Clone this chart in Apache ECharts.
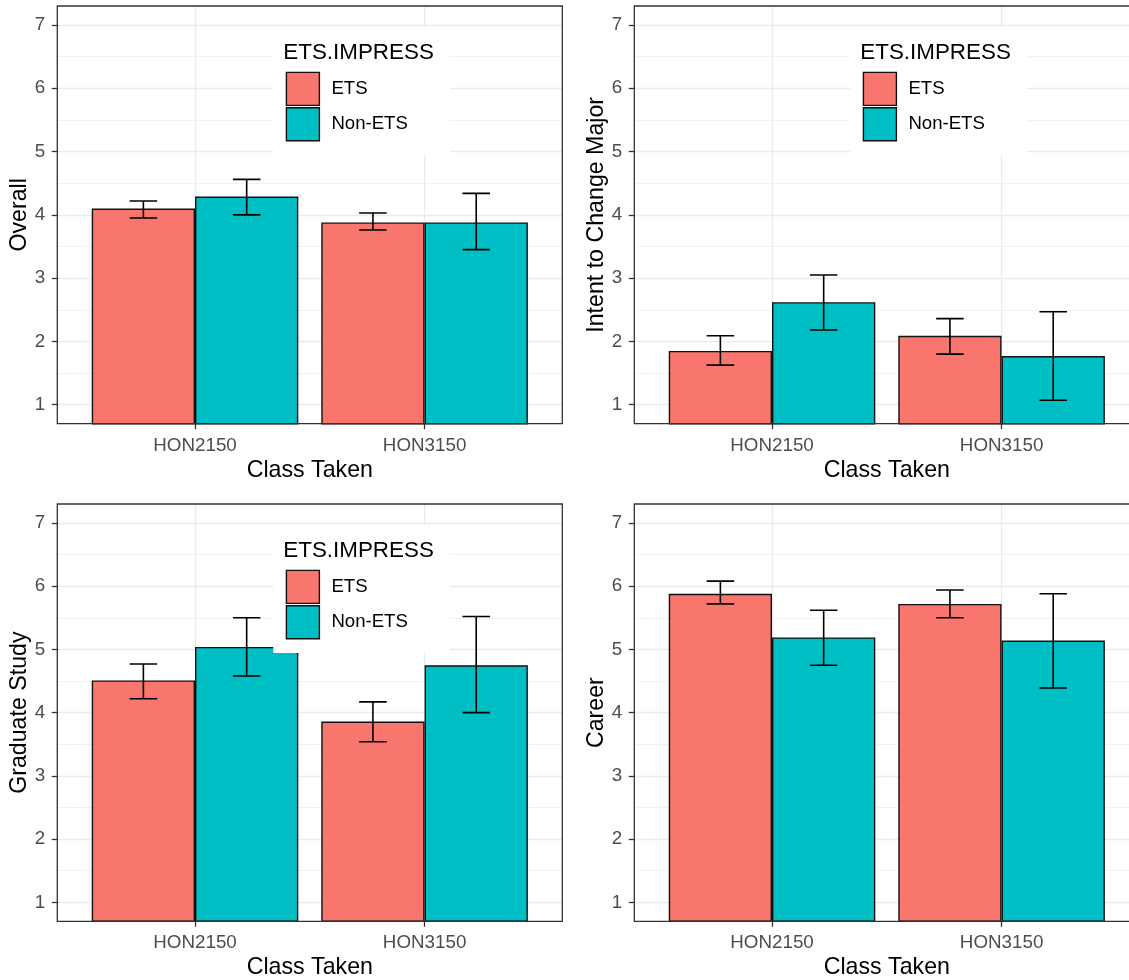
<!DOCTYPE html>
<html>
<head>
<meta charset="utf-8">
<script src="https://cdn.jsdelivr.net/npm/echarts@6/dist/echarts.min.js"></script>
<style>
html, body { margin: 0; padding: 0; background: #fff; }
#chart { width: 1129px; height: 980px; }
</style>
</head>
<body>
<div id="chart"></div>
<script>
// ---- data ----
const categories = ['HON2150', 'HON3150'];
const groups = ['ETS', 'Non-ETS'];
const yTicks = [1, 2, 3, 4, 5, 6, 7];
const yMinorBreaks = [1.5, 2.5, 3.5, 4.5, 5.5, 6.5];
const panelTitles = ['Overall', 'Intent to Change Major', 'Graduate Study', 'Career'];
const xTitle = 'Class Taken';
const legendTitle = 'ETS.IMPRESS';

const overallETS = [4.10, 3.88];
const overallETSLo = [3.95, 3.76];
const overallETSHi = [4.22, 4.03];
const overallNon = [4.29, 3.88];
const overallNonLo = [4.00, 3.45];
const overallNonHi = [4.56, 4.34];

const intentETS = [1.85, 2.09];
const intentETSLo = [1.625, 1.80];
const intentETSHi = [2.09, 2.36];
const intentNon = [2.62, 1.77];
const intentNonLo = [2.18, 1.07];
const intentNonHi = [3.05, 2.47];

const gradETS = [4.51, 3.86];
const gradETSLo = [4.22, 3.54];
const gradETSHi = [4.77, 4.17];
const gradNon = [5.04, 4.75];
const gradNonLo = [4.58, 4.00];
const gradNonHi = [5.50, 5.52];

const careerETS = [5.88, 5.72];
const careerETSLo = [5.72, 5.50];
const careerETSHi = [6.08, 5.94];
const careerNon = [5.19, 5.14];
const careerNonLo = [4.75, 4.39];
const careerNonHi = [5.62, 5.88];

const panelData = [
  { ets: overallETS, etsLo: overallETSLo, etsHi: overallETSHi, non: overallNon, nonLo: overallNonLo, nonHi: overallNonHi },
  { ets: intentETS, etsLo: intentETSLo, etsHi: intentETSHi, non: intentNon, nonLo: intentNonLo, nonHi: intentNonHi },
  { ets: gradETS, etsLo: gradETSLo, etsHi: gradETSHi, non: gradNon, nonLo: gradNonLo, nonHi: gradNonHi },
  { ets: careerETS, etsLo: careerETSLo, etsHi: careerETSHi, non: careerNon, nonLo: careerNonLo, nonHi: careerNonHi }
];
const showLegend = [true, true, true, false];

// ---- layout / style ----
const FONT = '"Liberation Sans", Arial, sans-serif';
const colors = ['#F8766D', '#00BFC4'];
const PW = 505;
const layouts = [
  { left: 57.3, top: 6, height: 417.7 },
  { left: 634.3, top: 6, height: 417.7 },
  { left: 57.3, top: 504, height: 417.3 },
  { left: 634.3, top: 504, height: 417.3 }
];
const dodge = [-0.225, 0.225];
const capFrac = 0.12;

const grid = [], xAxis = [], yAxis = [], series = [], legend = [], title = [], graphic = [];

layouts.forEach((L, p) => {
  grid.push({ left: L.left, top: L.top, width: PW, height: L.height, show: false,
              containLabel: false, outerBoundsMode: 'none' });
  xAxis.push({
    type: 'value', gridIndex: p, min: 0.4, max: 2.6,
    name: xTitle, nameLocation: 'middle', nameGap: 35,
    nameTextStyle: { fontFamily: FONT, fontSize: 23.2, color: '#000' },
    axisLine: { show: false },
    axisTick: { show: true, length: 5.5, customValues: categories.map((c, i) => i + 1),
                lineStyle: { color: '#333', width: 1.3 } },
    axisLabel: { show: true, customValues: categories.map((c, i) => i + 1), margin: 12.5,
                 fontFamily: FONT, fontSize: 18.8, color: '#4D4D4D',
                 formatter: v => categories[Math.round(v) - 1] || '' },
    splitLine: { show: true, lineStyle: { color: '#EBEBEB', width: 1.3 } }
  });
  yAxis.push({
    type: 'value', gridIndex: p, min: 0.7, max: 7.3,
    name: panelTitles[p], nameLocation: 'middle', nameGap: 25,
    nameTextStyle: { fontFamily: FONT, fontSize: 23.2, color: '#000' },
    axisLine: { show: false },
    axisTick: { show: true, length: 5.5, customValues: yTicks, lineStyle: { color: '#333', width: 1.3 } },
    axisLabel: { show: true, customValues: yTicks, margin: 12, fontFamily: FONT, fontSize: 18.8, color: '#4D4D4D' },
    splitLine: { show: true, lineStyle: { color: '#EBEBEB', width: 1.3 } }
  });
  yAxis.push({
    type: 'value', gridIndex: p, min: 0.7, max: 7.3, position: 'right',
    axisLine: { show: false },
    axisTick: { show: false, customValues: yMinorBreaks },
    axisLabel: { show: false, customValues: yMinorBreaks },
    splitLine: { show: true, lineStyle: { color: '#EBEBEB', width: 0.7 } }
  });

  const D = panelData[p];
  const vals = [D.ets, D.non], los = [D.etsLo, D.nonLo], his = [D.etsHi, D.nonHi];
  groups.forEach((g, k) => {
    series.push({
      type: 'bar', name: g, xAxisIndex: p, yAxisIndex: 2 * p,
      data: categories.map((c, i) => [i + 1, vals[k][i]]),
      barGap: '0%', barCategoryGap: '10%',
      itemStyle: { color: colors[k], borderColor: '#111', borderWidth: 1.4 },
      emphasis: { disabled: true }, silent: true, z: 2
    });
  });
  groups.forEach((g, k) => {
    series.push({
      type: 'custom', name: g + ' SE', xAxisIndex: p, yAxisIndex: 2 * p,
      data: categories.map((c, i) => [i + 1, los[k][i], his[k][i]]),
      silent: true, z: 3, clip: true,
      renderItem: (params, api) => {
        const x = api.value(0), lo = api.value(1), hi = api.value(2);
        const band = api.size([1, 0])[0];
        const pLo = api.coord([x, lo]), pHi = api.coord([x, hi]);
        const cx = pLo[0] + dodge[k] * band;
        const half = capFrac * band / 2;
        const st = { stroke: '#000', lineWidth: 1.6 };
        return { type: 'group', children: [
          { type: 'line', shape: { x1: cx, y1: pLo[1], x2: cx, y2: pHi[1] }, style: st },
          { type: 'line', shape: { x1: cx - half, y1: pLo[1], x2: cx + half, y2: pLo[1] }, style: st },
          { type: 'line', shape: { x1: cx - half, y1: pHi[1], x2: cx + half, y2: pHi[1] }, style: st }
        ] };
      }
    });
  });

  if (showLegend[p]) {
    legend.push({
      data: groups, orient: 'vertical', selectedMode: false,
      left: L.left + 216, top: L.top + 21,
      padding: [44.7, 42, 13.6, 12.4],
      backgroundColor: '#fff',
      itemWidth: 33, itemHeight: 33, itemGap: 1, icon: 'rect',
      itemStyle: { borderColor: '#111', borderWidth: 1.4 },
      textStyle: { fontFamily: FONT, fontSize: 18.6, color: '#000', padding: [8, 0, 0, 7] }
    });
    title.push({
      text: legendTitle, left: L.left + 226, top: L.top + 35.5, padding: 0,
      textStyle: { fontFamily: FONT, fontSize: 22.4, fontWeight: 'normal', color: '#000' }
    });
  }
  graphic.push({
    type: 'rect', z: 100, silent: true,
    shape: { x: L.left, y: L.top, width: PW, height: L.height },
    style: { fill: 'none', stroke: '#333', lineWidth: 1.3 }
  });
});

const chart = echarts.init(document.getElementById('chart'), null, { renderer: 'canvas' });
chart.setOption({
  backgroundColor: '#fff',
  animation: false,
  grid, xAxis, yAxis, series, legend, title, graphic,
  tooltip: { show: false }
});
</script>
</body>
</html>
